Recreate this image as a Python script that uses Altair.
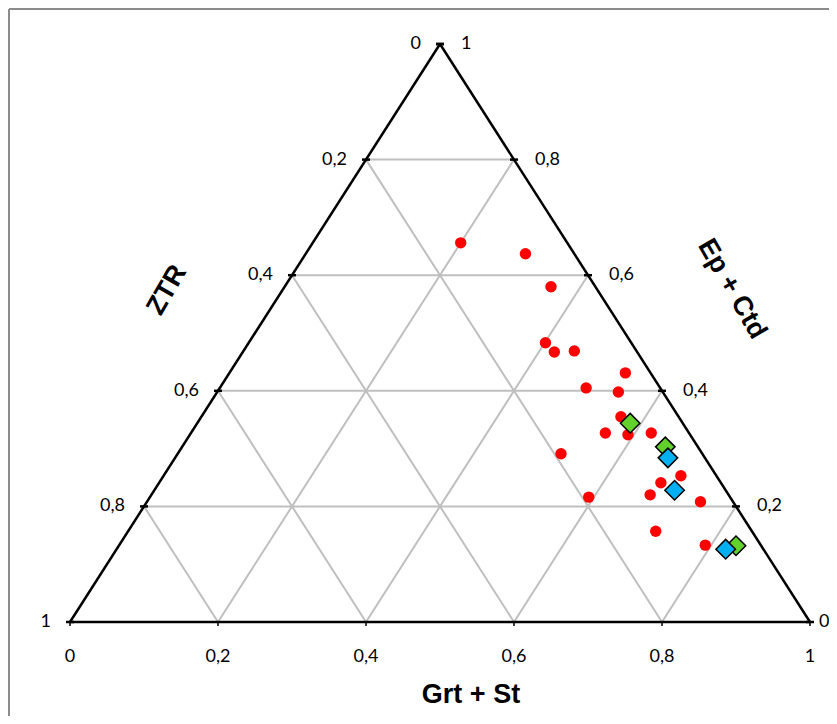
import altair as alt
import pandas as pd

# ---- data: compositions (fractions) ----
red_grt_st = [0.200, 0.297, 0.360, 0.401, 0.421, 0.447, 0.535, 0.495, 0.542, 0.567, 0.560,
              0.592, 0.622, 0.518, 0.699, 0.678, 0.674, 0.593, 0.748, 0.713, 0.792]
red_ep_ctd = [0.656, 0.637, 0.580, 0.483, 0.467, 0.469, 0.431, 0.405, 0.398, 0.355, 0.327,
              0.324, 0.327, 0.291, 0.253, 0.241, 0.220, 0.216, 0.208, 0.157, 0.133]
red_ztr = [round(1 - a - b, 3) for a, b in zip(red_grt_st, red_ep_ctd)]

green_grt_st = [0.585, 0.653, 0.834]
green_ep_ctd = [0.344, 0.303, 0.132]
green_ztr = [round(1 - a - b, 3) for a, b in zip(green_grt_st, green_ep_ctd)]

blue_grt_st = [0.666, 0.703, 0.823]
blue_ep_ctd = [0.284, 0.228, 0.126]
blue_ztr = [round(1 - a - b, 3) for a, b in zip(blue_grt_st, blue_ep_ctd)]

grid_values = [0.2, 0.4, 0.6, 0.8]
tick_values = [0, 0.2, 0.4, 0.6, 0.8, 1]
tick_labels = ["0", "0,2", "0,4", "0,6", "0,8", "1"]


def tern(a, b):
    """Grt+St = a, Ep+Ctd = b -> cartesian (X, Y)."""
    return a + b / 2.0, b


def pts(grt, ep, ztr):
    rows = []
    for a, b, c in zip(grt, ep, ztr):
        X, Y = tern(a, b)
        rows.append({"X": X, "Y": Y, "Grt + St": a, "Ep + Ctd": b, "ZTR": c})
    return pd.DataFrame(rows)


red_df = pts(red_grt_st, red_ep_ctd, red_ztr)
green_df = pts(green_grt_st, green_ep_ctd, green_ztr)
blue_df = pts(blue_grt_st, blue_ep_ctd, blue_ztr)

# grid segments
grid_rows = []
for t in grid_values:
    x1, y1 = tern(0, t); x2, y2 = tern(1 - t, t)
    grid_rows.append({"X": x1, "Y": y1, "X2": x2, "Y2": y2})
    x1, y1 = tern(t, 0); x2, y2 = tern(t, 1 - t)
    grid_rows.append({"X": x1, "Y": y1, "X2": x2, "Y2": y2})
    x1, y1 = tern(1 - t, 0); x2, y2 = tern(0, 1 - t)
    grid_rows.append({"X": x1, "Y": y1, "X2": x2, "Y2": y2})
grid_df = pd.DataFrame(grid_rows)

ex = [tern(1, 0), tern(0, 0), tern(0, 1)]
edge_df = pd.DataFrame([
    {"X": ex[0][0], "Y": ex[0][1], "X2": ex[1][0], "Y2": ex[1][1]},
    {"X": ex[1][0], "Y": ex[1][1], "X2": ex[2][0], "Y2": ex[2][1]},
    {"X": ex[2][0], "Y": ex[2][1], "X2": ex[0][0], "Y2": ex[0][1]},
])

bottom_lab = pd.DataFrame([{"X": tern(t, 0)[0], "Y": 0.0, "t": l}
                           for t, l in zip(tick_values, tick_labels)])
left_lab = pd.DataFrame([{"X": tern(0, 1 - t)[0], "Y": tern(0, 1 - t)[1], "t": l}
                         for t, l in zip(tick_values, tick_labels)])
right_all = pd.DataFrame([{"X": tern(1 - t, t)[0], "Y": tern(1 - t, t)[1], "t": l, "v": t}
                          for t, l in zip(tick_values, tick_labels)])
right_lab = right_all[right_all["v"] > 0]
right_zero = right_all[right_all["v"] == 0]
side_ticks = pd.concat([left_lab, right_all])[["X", "Y"]]

W, H = 816, 703
xs = alt.Scale(domain=[-0.077027, 1.025676], nice=False, zero=False)
ys = alt.Scale(domain=[-0.162630, 1.053633], nice=False, zero=False)
X = alt.X("X:Q", scale=xs, axis=None)
Y = alt.Y("Y:Q", scale=ys, axis=None)

grid = alt.Chart(grid_df).mark_rule(color="#BFBFBF", strokeWidth=2).encode(
    x=X, y=Y, x2="X2:Q", y2="Y2:Q")
edges = alt.Chart(edge_df).mark_rule(color="#000000", strokeWidth=2.5).encode(
    x=X, y=Y, x2="X2:Q", y2="Y2:Q")
sticks = alt.Chart(side_ticks).mark_point(
    shape="M-1,0L1,0", size=64, stroke="#000000", strokeWidth=2.5, filled=False, opacity=1
).encode(x=X, y=Y)
bticks = alt.Chart(bottom_lab).mark_point(
    shape="M0,0L0,1", size=64, stroke="#000000", strokeWidth=1.5, filled=False, opacity=1
).encode(x=X, y=Y)

tfont = dict(font="Lato", fontSize=18, color="#000000")
blab = alt.Chart(bottom_lab).mark_text(align="center", baseline="middle", dy=35, **tfont).encode(
    x=X, y=Y, text="t:N")
llab = alt.Chart(left_lab).mark_text(align="right", baseline="middle", dx=-19, **tfont).encode(
    x=X, y=Y, text="t:N")
rlab = alt.Chart(right_lab).mark_text(align="left", baseline="middle", dx=21, **tfont).encode(
    x=X, y=Y, text="t:N")
rzero = alt.Chart(right_zero).mark_text(align="left", baseline="middle", dx=9, **tfont).encode(
    x=X, y=Y, text="t:N")

red = alt.Chart(red_df).mark_circle(color="#FF0000", size=130, opacity=1).encode(
    x=X, y=Y, tooltip=["Grt + St", "Ep + Ctd", "ZTR"])
green = alt.Chart(green_df).mark_point(
    shape="diamond", size=380, filled=True, fill="#62D12B", stroke="#000000", strokeWidth=1.5, opacity=1
).encode(x=X, y=Y)
blue = alt.Chart(blue_df).mark_point(
    shape="diamond", size=380, filled=True, fill="#00B0F0", stroke="#000000", strokeWidth=1.5, opacity=1
).encode(x=X, y=Y)

one = pd.DataFrame({"k": [0]})
ttl = dict(font="Liberation Sans", fontSize=27, fontWeight="bold", color="#000000",
           align="center", baseline="middle")
t_bottom = alt.Chart(one).mark_text(text="Grt + St", **ttl).encode(
    x=alt.value(458), y=alt.value(682))
t_left = alt.Chart(one).mark_text(text="ZTR", angle=300, **ttl).encode(
    x=alt.value(154), y=alt.value(277))
t_right = alt.Chart(one).mark_text(text="Ep + Ctd", angle=60, **ttl).encode(
    x=alt.value(719), y=alt.value(276))

frame_l = alt.Chart(one).mark_rule(color="#8C8C8C", strokeWidth=2).encode(
    x=alt.value(-4), y=alt.value(-4), y2=alt.value(H + 10))
frame_t = alt.Chart(one).mark_rule(color="#8C8C8C", strokeWidth=2).encode(
    x=alt.value(-4), x2=alt.value(W + 10), y=alt.value(-4))

chart = alt.layer(
    frame_l, frame_t, grid, edges, sticks, bticks, blab, llab, rlab, rzero,
    red, green, blue, t_bottom, t_left, t_right
).properties(
    width=W, height=H,
    padding={"left": 5, "top": 5, "right": 0, "bottom": 0},
    autosize=alt.AutoSizeParams(type="none"),
    background="#FFFFFF",
).configure_view(stroke=None)

chart.save("out.html", embed_options={"renderer": "svg", "actions": False})
